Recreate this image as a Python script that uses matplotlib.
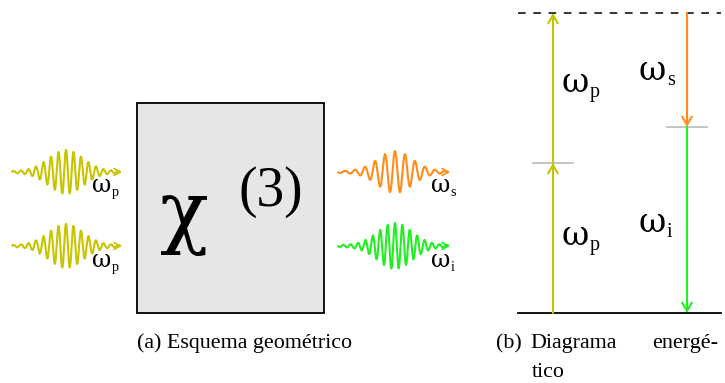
import numpy as np
import matplotlib
matplotlib.use("Agg")
import matplotlib.pyplot as plt
from matplotlib.patches import Rectangle

plt.rcParams['font.family'] = ['Liberation Serif', 'DejaVu Serif']

# ---- data ----
wave_names = ["pump1", "pump2", "signal", "idler"]
wave_colors = ["#c8c400", "#c8c400", "#ff8c1a", "#22ee22"]
wave_x_start = [12, 12, 338, 338]
wave_x_end = [122, 122, 450, 450]
wave_axis_y = [172, 246, 172, 246]
wave_center_x = [66, 66, 395, 395]
wave_amp = [22, 22, 21, 23]
wave_lambda = [7.5, 7.5, 10.0, 7.4]
wave_labels = ["p", "p", "s", "i"]
wave_label_x = [92, 92, 431, 431]
wave_label_y = [192, 267, 192, 267]

levels = [0, 1, 2]            # ground, virtual pump level, upper virtual level
signal_level = 1.24           # intermediate level reached after signal emission
level_names = ["p", "p", "s", "i"]
level_label_x = [562, 562, 639, 639]
level_label_y = [92, 245, 80, 232]

captions = ["(a) Esquema geométrico", "(b)", "Diagrama", "energé-", "tico"]

W, H = 725, 383
fig = plt.figure(figsize=(W / 100, H / 100), dpi=100)
ax = fig.add_axes([0, 0, 1, 1])
ax.set_xlim(0, W)
ax.set_ylim(H, 0)
ax.axis('off')
renderer = fig.canvas.get_renderer()

# ---- chi(3) box ----
ax.add_patch(Rectangle((137, 103), 187, 210, facecolor="#e6e6e6",
                       edgecolor="black", lw=1.3))
ax.text(160, 238, "χ", fontsize=58, ha="left", va="baseline",
        family=['DejaVu Serif'])
ax.text(239, 206, "(3)", fontsize=40, ha="left", va="baseline")

# ---- wave packets ----
for xs, xe, y0, xc, A, lam, c in zip(wave_x_start, wave_x_end, wave_axis_y,
                                       wave_center_x, wave_amp, wave_lambda,
                                       wave_colors):
    x = np.linspace(xs, xe - 2, 800)
    env = np.exp(-((x - xc) / 24.0) ** 2) * 0.93 + 0.07 * np.exp(-((x - xc) / 70.0) ** 2)
    y = y0 - A * env * np.cos(2 * np.pi * (x - xc) / lam)
    ax.plot(x, y, color=c, lw=1.5, solid_capstyle='round')
    ax.annotate("", xy=(xe, y0), xytext=(xe - 4, y0),
                arrowprops=dict(arrowstyle="->,head_length=0.45,head_width=0.25",
                                color=c, lw=1.2, shrinkA=0, shrinkB=0))

def omega(x, y, sub, size, color="black"):
    t = ax.text(x, y, "ω", fontsize=size, ha="left", va="baseline", color=color,
                family=['DejaVu Serif'])
    bb = t.get_window_extent(renderer)
    x_end = bb.x1  # pixels; data units equal pixels here
    ax.text(x_end + 0.5, y + size * 0.22, sub, fontsize=size * 0.6,
            ha="left", va="baseline", color=color)

for lx, ly_, s in zip(wave_label_x, wave_label_y, wave_labels):
    omega(lx, ly_, s, 17)

# ---- energy diagram ----
y_ground, y_top = 313, 13
def ly(v):
    return y_ground - (y_ground - y_top) * v / levels[-1]

xl0, xl1 = 518, 721
ax.plot([xl0, xl1], [ly(levels[0])] * 2, color="black", lw=1.3)
ax.plot([xl0, xl1], [ly(levels[2])] * 2, color="black", lw=1.1,
        dashes=(5, 5))

x_pump, x_sig = 553, 687
ax.plot([x_pump - 20, x_pump + 20], [ly(levels[1])] * 2, color="#bbbbbb", lw=1.2)
ax.plot([x_sig - 20, x_sig + 20], [ly(signal_level)] * 2, color="#bbbbbb", lw=1.2)

arrow = "->,head_length=0.6,head_width=0.35"
def varrow(x, v0, v1, c):
    ax.annotate("", xy=(x, ly(v1)), xytext=(x, ly(v0)),
                arrowprops=dict(arrowstyle=arrow, color=c, lw=1.5,
                                shrinkA=0, shrinkB=0))

varrow(x_pump, levels[0], levels[1], wave_colors[0])
varrow(x_pump, levels[1], levels[2], wave_colors[1])
varrow(x_sig, levels[2], signal_level, wave_colors[2])
varrow(x_sig, signal_level, levels[0], wave_colors[3])

for lx, ly_, s in zip(level_label_x, level_label_y, level_names):
    omega(lx, ly_, s, 24)

# ---- captions ----
cs = 15.8
ax.text(137, 348, captions[0], fontsize=cs, ha="left", va="baseline")
ax.text(496, 348, captions[1], fontsize=cs, ha="left", va="baseline")
ax.text(530, 348, captions[2], fontsize=cs, ha="left", va="baseline")
ax.text(718, 348, captions[3], fontsize=cs, ha="right", va="baseline")
ax.text(532, 377, captions[4], fontsize=cs, ha="left", va="baseline")

fig.savefig("out.png", dpi=100)
